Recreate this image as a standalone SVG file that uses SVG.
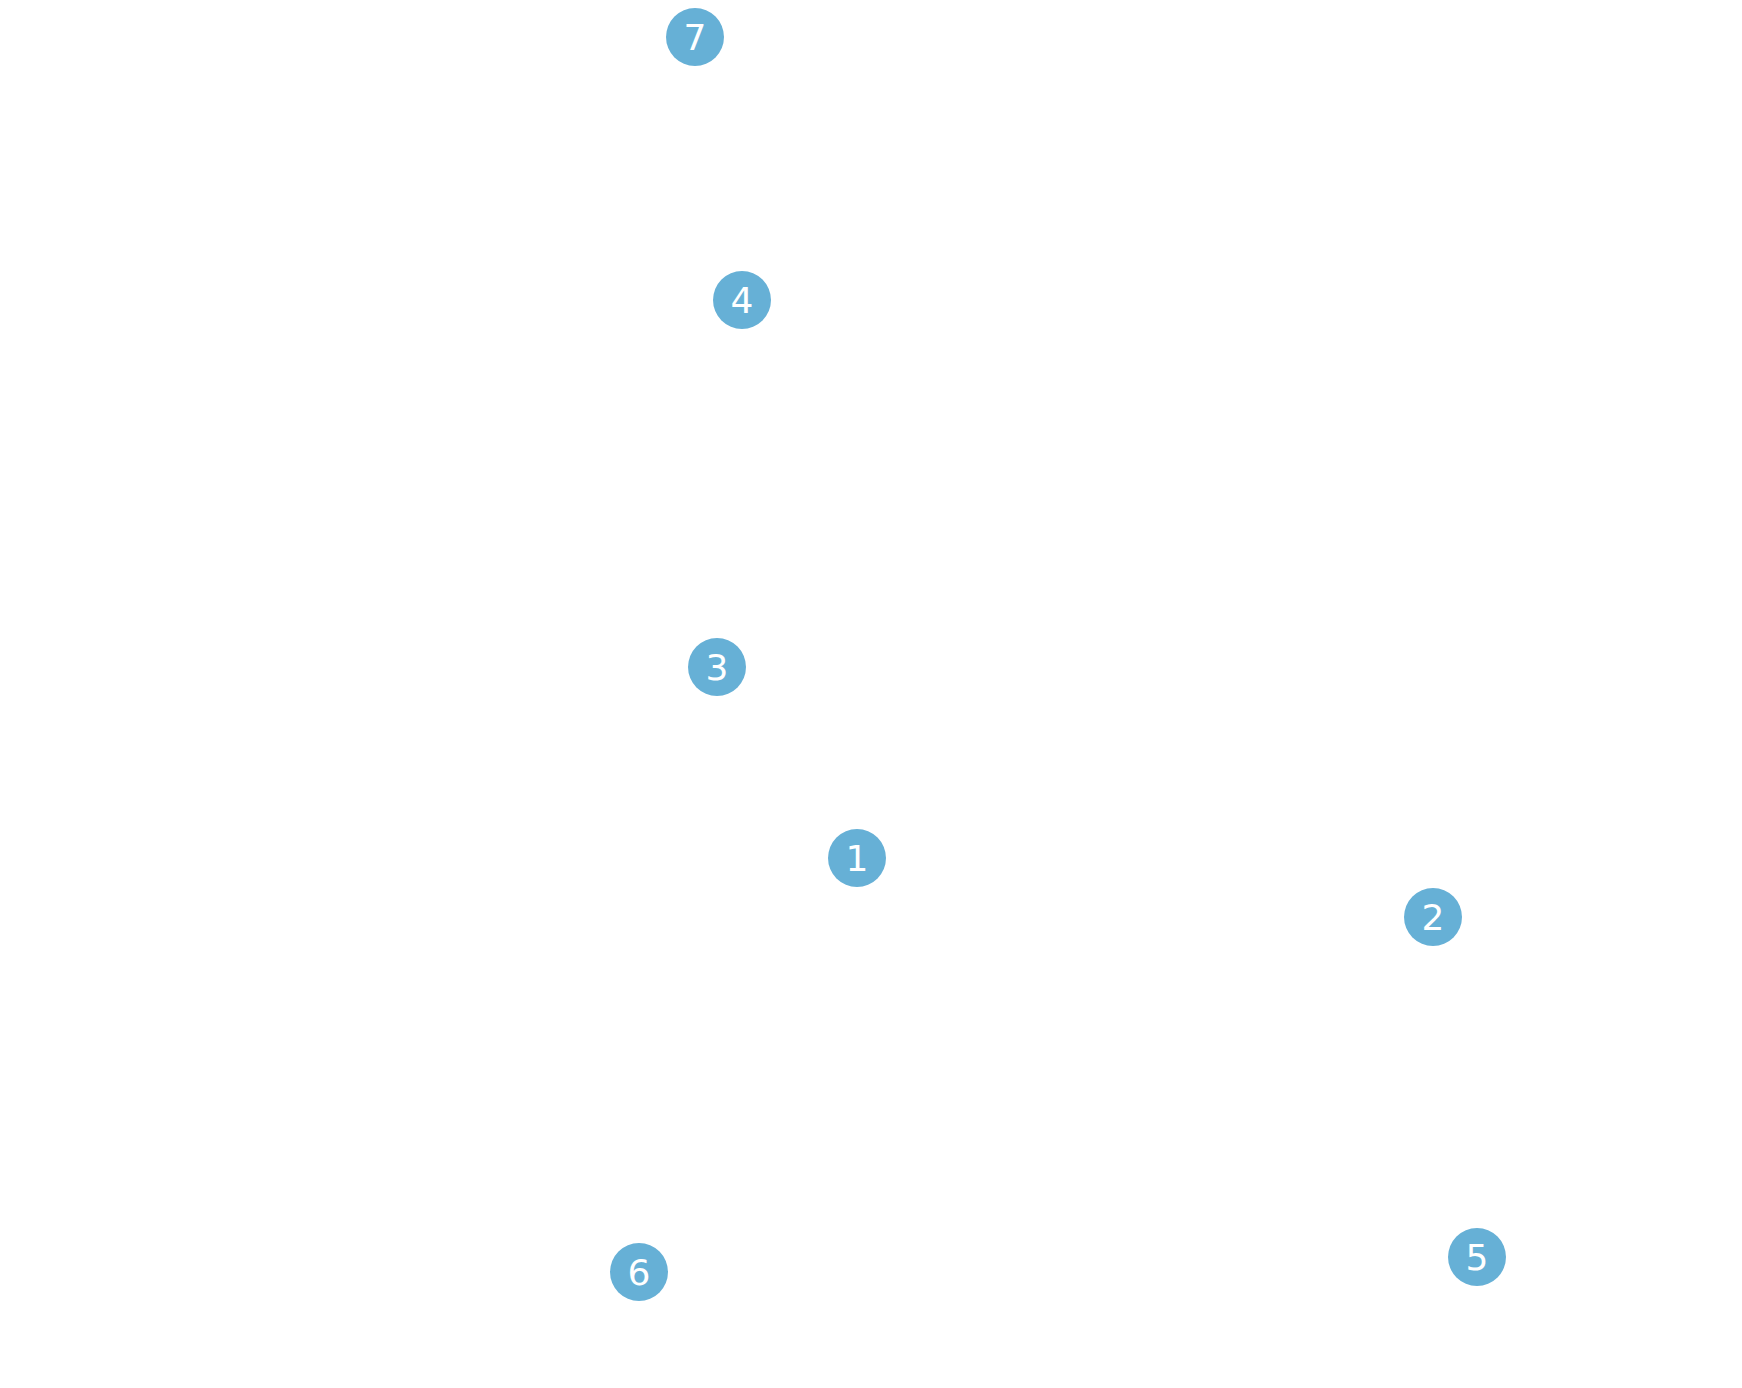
<svg xmlns="http://www.w3.org/2000/svg" width="1742" height="1388" viewBox="0 0 1742 1388">
<style>
.n circle{fill:#66b0d6}
.n text{fill:#fff;font-family:"DejaVu Sans",sans-serif;font-size:36px;text-anchor:middle;dominant-baseline:central}
</style>
<rect width="1742" height="1388" fill="#fff"/>
<g id="connectors"></g>
<g id="n7" class="n"><circle cx="695" cy="37" r="29"/><text x="695" y="37">7</text></g>
<g id="n4" class="n"><circle cx="742" cy="300" r="29"/><text x="742" y="300">4</text></g>
<g id="n3" class="n"><circle cx="717" cy="667" r="29"/><text x="717" y="667">3</text></g>
<g id="n1" class="n"><circle cx="857" cy="858" r="29"/><text x="857" y="858">1</text></g>
<g id="n2" class="n"><circle cx="1433" cy="917" r="29"/><text x="1433" y="917">2</text></g>
<g id="n6" class="n"><circle cx="639" cy="1272" r="29"/><text x="639" y="1272">6</text></g>
<g id="n5" class="n"><circle cx="1477" cy="1257" r="29"/><text x="1477" y="1257">5</text></g>
</svg>
